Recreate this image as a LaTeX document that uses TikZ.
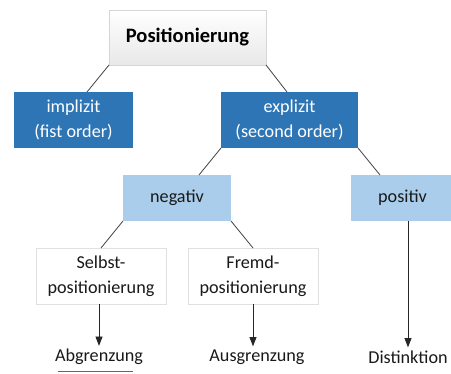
\documentclass[tikz,border=0pt]{standalone}
\usepackage{fontspec}
\setmainfont{Carlito}
\usetikzlibrary{calc}
\usetikzlibrary{arrows.meta}

\definecolor{darkblue}{HTML}{2E75B6}
\definecolor{lightblue}{HTML}{A9CDEB}
\definecolor{boxgray}{HTML}{D6D6D6}
\definecolor{linegray}{HTML}{454545}

\tikzset{
	box/.style={inner sep=0pt, outer sep=0pt, align=center, font=\fontsize{15.5}{21}\selectfont},
	topbox/.style={box, draw=boxgray, top color=white, bottom color=black!9, font=\fontsize{17.5}{21}\selectfont\bfseries, minimum width=4.71cm, minimum height=1.65cm},
	darkbox/.style={box, fill=darkblue, text=white, minimum height=1.68cm},
	lightbox/.style={box, fill=lightblue, text=black!90, minimum height=1.38cm},
	whitebox/.style={box, draw=black!12, fill=white, text=black!90, minimum width=3.9cm, minimum height=1.68cm},
	result/.style={inner sep=0pt, text=black!90, font=\fontsize{15.5}{21}\selectfont},
	branch/.style={linegray, line width=0.7pt},
	lead/.style={black!85, line width=0.7pt, -{Triangle[length=8pt,width=6pt]}}
}

\begin{document}
\begin{tikzpicture}[x=0.03cm, y=-0.03cm]
	\useasboundingbox (0,0) rectangle (451,374);

	% draw boxes
	\node[topbox] (pos) at (187.5,37.5) {Positionierung};
	\node[darkbox, minimum width=3.57cm] (impl) at (73.5,120) {implizit\\(fist order)};
	\node[darkbox, minimum width=4.11cm] (expl) at (289.5,120) {explizit\\(second order)};
	\node[lightbox, minimum width=3.24cm] (neg) at (177,198) {negativ};
	\node[lightbox, minimum width=3.09cm] (posi) at (402.5,198) {positiv};
	\node[whitebox] (selbst) at (101,276) {Selbst-\\positionierung};
	\node[whitebox] (fremd) at (253,276) {Fremd-\\positionierung};

	% draw results
	\node[result] (abgr) at (99,357) {Abgrenzung};
	\node[result] (ausgr) at (257,357) {Ausgrenzung};
	\node[result] (dist) at (408,357) {Distinktion};
	\draw[black!60, line width=0.6pt] ($(abgr.south west)+(3,6)$) -- ($(abgr.south east)+(-10,6)$);

	% draw branches
	\draw[branch] (pos.south west) -- ($(impl.north)+(13.5,0)$);
	\draw[branch] (pos.south east) -- ($(expl.north)+(-2.5,0)$);
	\draw[branch] (expl.south west) -- ($(neg.north)+(22,0)$);
	\draw[branch] (expl.south east) -- ($(posi.north)+(-22.5,0)$);
	\draw[branch] (neg.south west) -- (selbst.north);
	\draw[branch] (neg.south east) -- (fremd.north);

	% arrows to the results
	\draw[lead] ($(selbst.south)+(-2,0)$) -- ($(abgr.north)+(0,-3)$);
	\draw[lead] (fremd.south) -- (fremd.south |- {$(ausgr.north)+(0,-3)$});
	\draw[lead] ($(posi.south)+(5.5,0)$) -- ($(dist.north)+(0,-3)$);
\end{tikzpicture}
\end{document}
